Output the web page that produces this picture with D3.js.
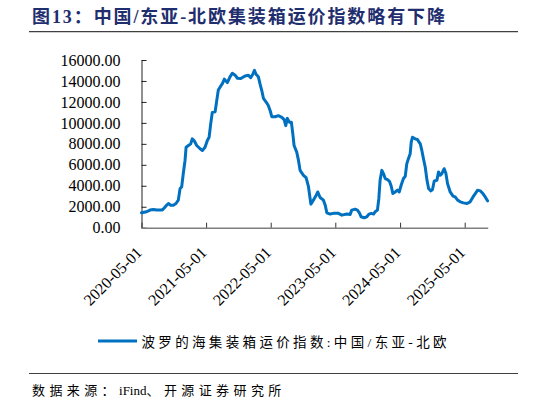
<!DOCTYPE html>
<html><head><meta charset="utf-8">
<script src="https://cdn.jsdelivr.net/npm/d3@7"></script>
<style>
html,body{margin:0;padding:0;background:#fff;}
svg{display:block;}
</style></head>
<body>
<svg id="c" width="546" height="405"></svg>
<script>
const titleText = "图13：中国/东亚-北欧集装箱运价指数略有下降";
const seriesName = "波罗的海集装箱运价指数:中国/东亚-北欧";
const sourceParts = ["数据来源：", "iFind", "、开源证券研究所"];

const dates = ["2020-05-01","2020-05-30","2020-06-18","2020-07-07","2020-07-26","2020-08-23","2020-09-01","2020-09-20","2020-09-30","2020-10-13",
"2020-10-28","2020-11-12","2020-11-25","2020-12-05","2020-12-14","2020-12-23","2021-01-02","2021-01-08","2021-01-21","2021-02-03",
"2021-02-12","2021-02-22","2021-03-09","2021-03-28","2021-04-10","2021-04-25","2021-05-08","2021-05-18","2021-05-27","2021-06-05",
"2021-06-21","2021-07-04","2021-07-09","2021-07-23","2021-08-01","2021-08-12","2021-08-29","2021-09-13","2021-09-26","2021-10-12",
"2021-10-25","2021-11-13","2021-12-07","2021-12-26","2022-01-08","2022-01-20","2022-01-29","2022-02-07","2022-02-20","2022-03-02",
"2022-03-12","2022-03-21","2022-04-09","2022-04-18","2022-04-28","2022-05-07","2022-05-26","2022-06-13","2022-07-03","2022-07-16",
"2022-07-25","2022-08-03","2022-08-15","2022-08-26","2022-09-03","2022-09-10","2022-09-25","2022-10-05","2022-10-14","2022-11-02",
"2022-11-17","2022-11-30","2022-12-14","2022-12-28","2023-01-13","2023-01-22","2023-02-04","2023-02-23","2023-03-05","2023-03-14",
"2023-04-02","2023-04-20","2023-05-19","2023-06-07","2023-07-05","2023-07-24","2023-08-02","2023-08-21","2023-09-03","2023-09-14",
"2023-09-24","2023-10-11","2023-10-26","2023-11-08","2023-11-20","2023-12-03","2023-12-12","2023-12-25","2024-01-02","2024-01-09",
"2024-01-19","2024-01-28","2024-02-07","2024-02-20","2024-03-02","2024-03-12","2024-03-21","2024-04-03","2024-04-16","2024-04-26",
"2024-05-07","2024-05-20","2024-05-30","2024-06-08","2024-06-17","2024-06-27","2024-07-03","2024-07-10","2024-07-25","2024-08-07",
"2024-08-23","2024-09-01","2024-09-10","2024-09-20","2024-09-30","2024-10-09","2024-10-22","2024-10-31","2024-11-10","2024-11-25",
"2024-12-04","2024-12-14","2024-12-23","2025-01-05","2025-01-15","2025-01-24","2025-02-08","2025-02-24","2025-03-08","2025-03-22",
"2025-04-06","2025-04-24","2025-05-14","2025-06-01","2025-06-17","2025-06-30","2025-07-13","2025-07-28","2025-08-12","2025-08-25",
"2025-09-07"];

const values = [1420,1520,1680,1745,1680,1680,1770,2150,2310,2150,
2150,2310,2630,3740,3890,5160,6420,7680,7840,8000,
8480,8320,7840,7530,7370,7680,8320,8630,9900,11000,
11070,12580,13130,13530,13750,14170,13850,14390,14740,14550,
14260,14230,14480,14550,14320,14640,15020,14640,14410,13690,
13060,12330,11890,11640,11160,10590,10590,10690,10530,10310,
9740,10430,10050,10050,8950,7840,7210,6420,5470,5000,
4780,3950,2250,2630,3100,3410,2880,2630,2150,1420,
1300,1370,1370,1200,1300,1270,1680,1770,1680,1420,
1040,950,1040,1300,1370,1300,1520,1680,2790,4520,
5470,5160,4690,4590,4430,3950,3260,3410,3580,3410,
4050,4690,4900,6110,6580,7060,8160,8630,8480,8410,
8000,7370,6580,5790,4520,3740,3510,3640,4460,4520,
5310,5000,5160,5630,5160,4210,3410,3010,2940,2630,
2470,2370,2310,2470,2940,3260,3580,3510,3260,2940,
2560];

const yTicks = [0,2000,4000,6000,8000,10000,12000,14000,16000];
const xTickLabels = ["2020-05-01","2021-05-01","2022-05-01","2023-05-01","2024-05-01","2025-05-01"];

const parse = d3.timeParse("%Y-%m-%d");
const data = dates.map((d,i)=>({date:parse(d), value:values[i]}));

const svg = d3.select("#c");
const blue = "#0070C0";
const mixFont = "'Liberation Serif','Times New Roman','Noto Sans CJK SC',serif";

const x = d3.scaleTime()
  .domain([parse("2020-05-01"), parse("2025-09-08")])
  .range([141.5, 487.7]);
const y = d3.scaleLinear().domain([0,16000]).range([227.7, 60]);

// title
svg.append("text")
  .attr("x", 32).attr("y", 23)
  .attr("font-family", mixFont)
  .attr("font-weight", "bold")
  .attr("font-size", 18)
  .attr("fill", "#1F2E6E")
  .attr("textLength", 413).attr("lengthAdjust", "spacing")
  .text(titleText);
svg.append("line").attr("x1",29).attr("x2",518).attr("y1",31.7).attr("y2",31.7)
  .attr("stroke","#404040").attr("stroke-width",1.2);

// y axis
const yAxis = d3.axisLeft(y).tickValues(yTicks).tickFormat(d3.format(".2f"))
  .tickSizeInner(-5).tickSizeOuter(0).tickPadding(21);
const gy = svg.append("g").attr("transform", `translate(${x.range()[0]},0)`).call(yAxis);
gy.select(".domain").attr("stroke","#222");
gy.selectAll(".tick line").attr("stroke","#222");
gy.selectAll("text").attr("font-family", mixFont).attr("font-size", 16).attr("fill","#000");

// x axis
const xAxis = d3.axisBottom(x).tickValues(xTickLabels.map(parse))
  .tickFormat(d3.timeFormat("%Y-%m-%d")).tickSizeInner(-5).tickSizeOuter(0);
const gx = svg.append("g").attr("transform", `translate(0,${y(0)})`).call(xAxis);
gx.select(".domain").attr("stroke","#7f7f7f").attr("stroke-width",1.5);
gx.selectAll(".tick line").attr("stroke","#333");
gx.selectAll(".tick text")
  .attr("font-family", mixFont).attr("font-size", 16).attr("fill","#000")
  .attr("text-anchor","end").attr("dy", null).attr("y", null)
  .attr("transform","translate(1,26) rotate(-45)");

// line
svg.append("path").datum(data)
  .attr("fill","none").attr("stroke",blue).attr("stroke-width",3)
  .attr("stroke-linejoin","round").attr("stroke-linecap","round")
  .attr("d", d3.line().x(d=>x(d.date)).y(d=>y(d.value)));

// legend
svg.append("line").attr("x1",98).attr("x2",137).attr("y1",341).attr("y2",341)
  .attr("stroke",blue).attr("stroke-width",3);
svg.append("text").attr("x",141.5).attr("y",346.5)
  .attr("font-family", mixFont).attr("font-size",13.5).attr("fill","#000")
  .attr("textLength",305).attr("lengthAdjust","spacing")
  .text(seriesName);

// bottom rule + source
svg.append("line").attr("x1",29).attr("x2",518).attr("y1",373.5).attr("y2",373.5)
  .attr("stroke","#404040").attr("stroke-width",1.2);
const src = svg.append("text").attr("x",32).attr("y",395)
  .attr("font-family", mixFont).attr("font-size",13).attr("fill","#000");
src.selectAll("tspan").data(sourceParts).join("tspan")
  .attr("letter-spacing", (d,i)=> i===1 ? 0 : 4.4)
  .text(d=>d);
</script>
</body></html>
